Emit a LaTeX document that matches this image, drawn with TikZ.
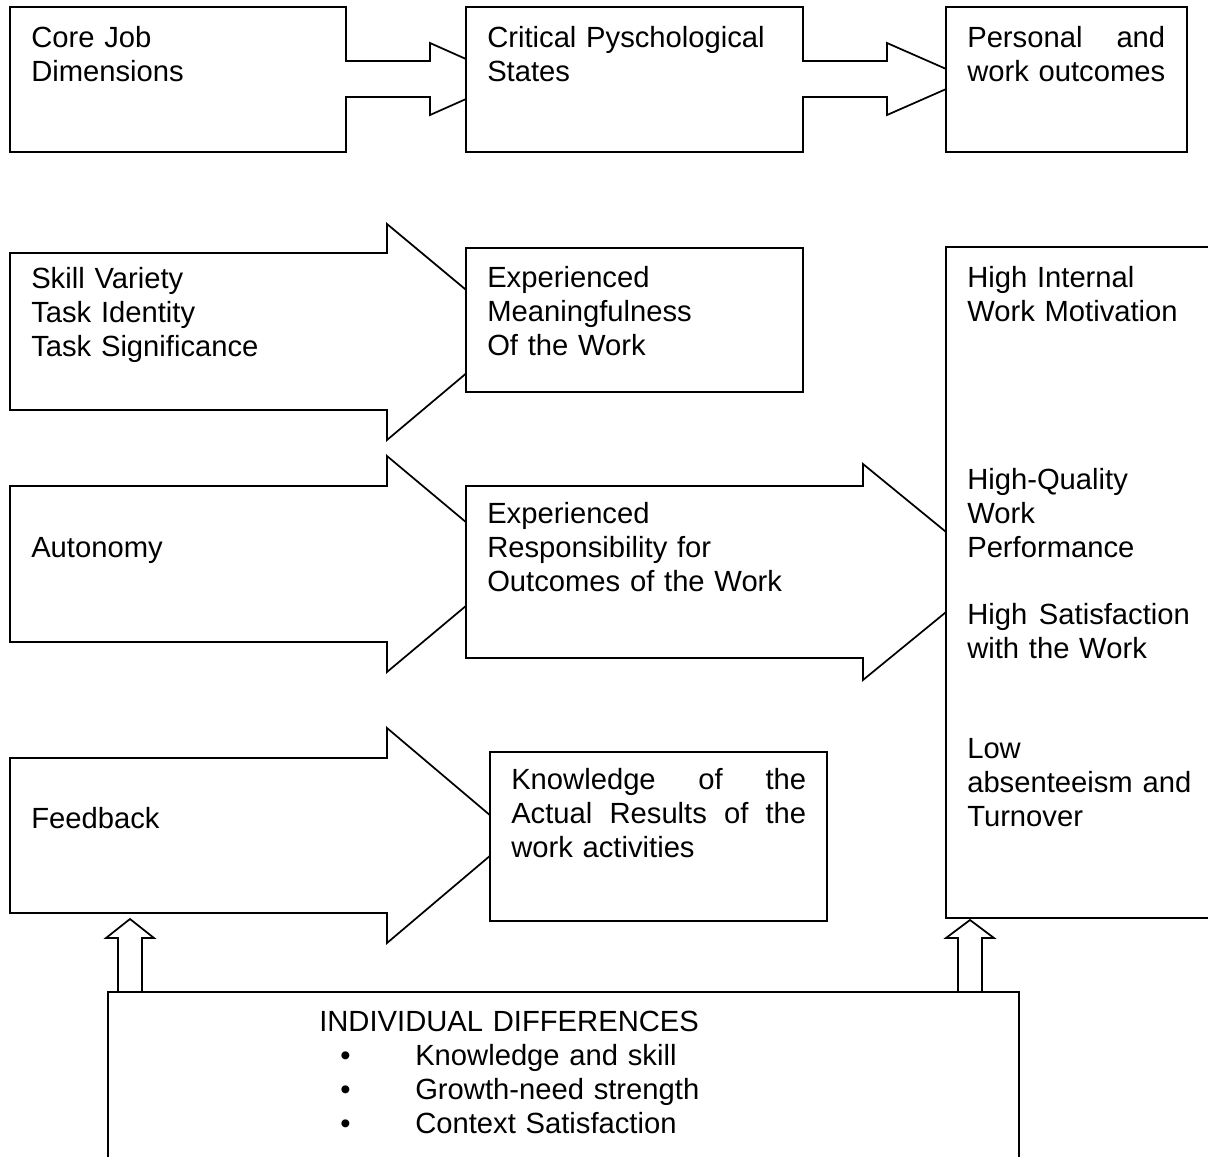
\documentclass[tikz,border=0pt]{standalone}
\usepackage{fontspec}
\setmainfont{Liberation Sans}
\newcommand{\txtfont}{\fontsize{21.9pt}{25.5pt}\selectfont}
\newcommand{\blt}{\makebox[56.25pt][l]{•}}
\begin{document}
\begin{tikzpicture}[x=0.75pt,y=-0.75pt,
  shp/.style={draw=black,fill=white,line width=1.3pt,line join=miter},
  txt/.style={anchor=base west,inner sep=0pt,align=left,text width=300pt,font=\txtfont}]
\useasboundingbox (0,0) rectangle (1208,1157);
\clip (0,0) rectangle (1208,1157);
\fill[white] (0,0) rectangle (1208,1157);

% ---- top row ----
\draw[shp] (10,7) -- (346,7) -- (346,61) -- (430,61) -- (430,43) -- (511,79) -- (430,115) -- (430,97) -- (346,97) -- (346,152) -- (10,152) -- cycle;
\draw[shp] (466,7) -- (803,7) -- (803,61) -- (887,61) -- (887,43) -- (969,79) -- (887,115) -- (887,97) -- (803,97) -- (803,152) -- (466,152) -- cycle;
\draw[shp] (946,7) rectangle (1187,152);

% ---- row: skill variety ----
\draw[shp] (10,253) -- (387,253) -- (387,224) -- (516,331.5) -- (387,440) -- (387,410) -- (10,410) -- cycle;
\draw[shp] (466,248) rectangle (803,392);

% ---- row: autonomy ----
\draw[shp] (10,486) -- (387,486) -- (387,456) -- (516,564) -- (387,672) -- (387,642) -- (10,642) -- cycle;
\draw[shp] (466,486) -- (863,486) -- (863,464) -- (995,572) -- (863,680) -- (863,658) -- (466,658) -- cycle;

% ---- row: feedback ----
\draw[shp] (10,758) -- (387,758) -- (387,728) -- (514,835.5) -- (387,943) -- (387,913) -- (10,913) -- cycle;
\draw[shp] (490,752) rectangle (827,921);

% ---- outcomes box ----
\draw[shp] (946,247) rectangle (1240,918);

% ---- individual differences ----
\draw[shp] (108,992) rectangle (1019,1200);
\draw[shp] (118,992) -- (118,938) -- (106,938) -- (130,919) -- (154,938) -- (142,938) -- (142,992) -- cycle;
\draw[shp] (958,992) -- (958,938) -- (946,938) -- (970,920) -- (994,938) -- (982,938) -- (982,992) -- cycle;

% ---- texts ----
\node[txt] (core) at (31,47) {Core Job\\Dimensions};
\node[txt] (crit) at (487,47) {Critical Pyschological\\States};
\node[txt] (pers) at (967,47) {\makebox[148.5pt][l]{Personal\hfill and}\\work outcomes};

\node[txt] (skill) at (31,288) {Skill Variety\\Task Identity\\Task Significance};
\node[txt] (mean) at (487,287) {Experienced\\Meaningfulness\\Of the Work};
\node[txt] (motiv) at (967,287) {High Internal\\Work Motivation};

\node[txt] (auton) at (31,557) {Autonomy};
\node[txt] (resp) at (487,523) {Experienced\\Responsibility for\\Outcomes of the Work};
\node[txt] (qual) at (967,489) {High-Quality\\Work\\Performance};
\node[txt] (satis) at (967,624) {\makebox[167pt][l]{High\hfill Satisfaction}\\with the Work};
\node[txt] (absent) at (967,758) {Low\\absenteeism and\\Turnover};

\node[txt] (feed) at (31,828) {Feedback};
\node[txt] (know) at (511,789) {\makebox[221.25pt][l]{Knowledge\hfill of\hfill the}\\\makebox[221.25pt][l]{Actual\hfill Results\hfill of\hfill the}\\work activities};

\node[txt] (indiv) at (319,1031) {INDIVIDUAL DIFFERENCES};
\node[txt] (list) at (340,1065) {\blt Knowledge and skill\\\blt Growth-need strength\\\blt Context Satisfaction};
\end{tikzpicture}
\end{document}
